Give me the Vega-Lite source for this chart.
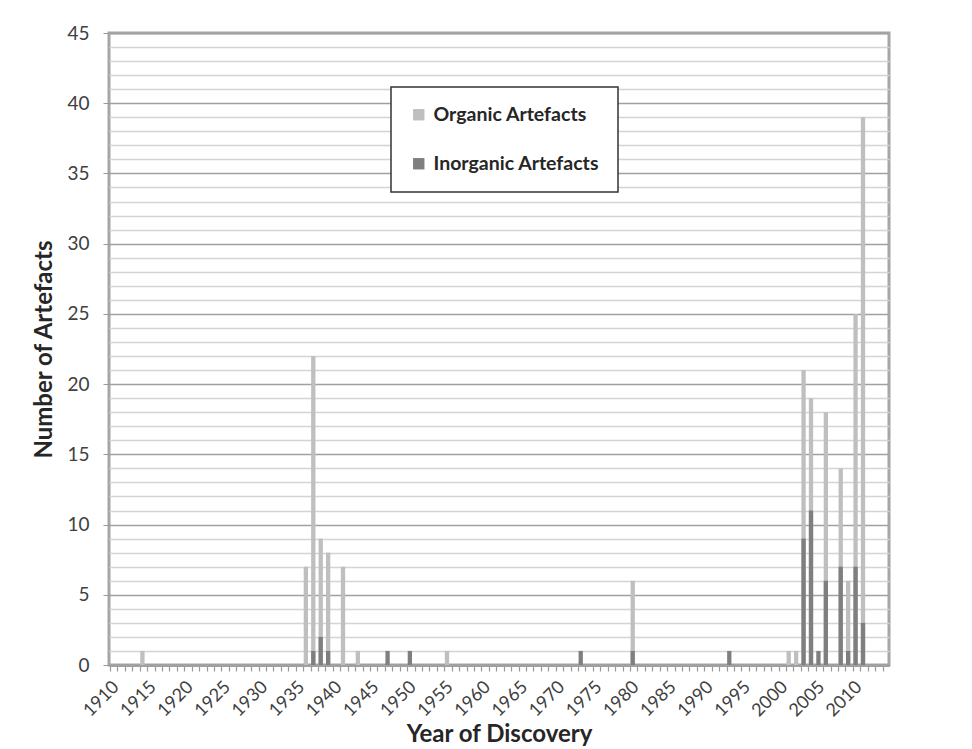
{
  "$schema": "https://vega.github.io/schema/vega-lite/v6.json",
  "width": 780,
  "height": 632,
  "autosize": {"type": "none"},
  "padding": {"left": 109, "top": 33, "right": 83, "bottom": 84},
  "background": "white",
  "config": {
    "font": "Lato",
    "view": {"stroke": "#a6a6a6", "strokeWidth": 3}
  },
  "data": {
    "values": [
      {"year": 1914, "type": "Organic Artefacts", "count": 1},
      {"year": 1936, "type": "Organic Artefacts", "count": 7},
      {"year": 1937, "type": "Organic Artefacts", "count": 22},
      {"year": 1938, "type": "Organic Artefacts", "count": 9},
      {"year": 1939, "type": "Organic Artefacts", "count": 8},
      {"year": 1941, "type": "Organic Artefacts", "count": 7},
      {"year": 1943, "type": "Organic Artefacts", "count": 1},
      {"year": 1955, "type": "Organic Artefacts", "count": 1},
      {"year": 1980, "type": "Organic Artefacts", "count": 6},
      {"year": 2001, "type": "Organic Artefacts", "count": 1},
      {"year": 2002, "type": "Organic Artefacts", "count": 1},
      {"year": 2003, "type": "Organic Artefacts", "count": 21},
      {"year": 2004, "type": "Organic Artefacts", "count": 19},
      {"year": 2006, "type": "Organic Artefacts", "count": 18},
      {"year": 2008, "type": "Organic Artefacts", "count": 14},
      {"year": 2009, "type": "Organic Artefacts", "count": 6},
      {"year": 2010, "type": "Organic Artefacts", "count": 25},
      {"year": 2011, "type": "Organic Artefacts", "count": 39},
      {"year": 1937, "type": "Inorganic Artefacts", "count": 1},
      {"year": 1938, "type": "Inorganic Artefacts", "count": 2},
      {"year": 1939, "type": "Inorganic Artefacts", "count": 1},
      {"year": 1947, "type": "Inorganic Artefacts", "count": 1},
      {"year": 1950, "type": "Inorganic Artefacts", "count": 1},
      {"year": 1973, "type": "Inorganic Artefacts", "count": 1},
      {"year": 1980, "type": "Inorganic Artefacts", "count": 1},
      {"year": 1993, "type": "Inorganic Artefacts", "count": 1},
      {"year": 2003, "type": "Inorganic Artefacts", "count": 9},
      {"year": 2004, "type": "Inorganic Artefacts", "count": 11},
      {"year": 2005, "type": "Inorganic Artefacts", "count": 1},
      {"year": 2006, "type": "Inorganic Artefacts", "count": 6},
      {"year": 2008, "type": "Inorganic Artefacts", "count": 7},
      {"year": 2009, "type": "Inorganic Artefacts", "count": 1},
      {"year": 2010, "type": "Inorganic Artefacts", "count": 7},
      {"year": 2011, "type": "Inorganic Artefacts", "count": 3}
    ]
  },
  "mark": {"type": "bar"},
  "encoding": {
    "x": {
      "field": "year",
      "type": "ordinal",
      "sort": null,
      "scale": {
        "domain": [1910,1911,1912,1913,1914,1915,1916,1917,1918,1919,1920,1921,1922,1923,1924,1925,1926,1927,1928,1929,1930,1931,1932,1933,1934,1935,1936,1937,1938,1939,1940,1941,1942,1943,1944,1945,1946,1947,1948,1949,1950,1951,1952,1953,1954,1955,1956,1957,1958,1959,1960,1961,1962,1963,1964,1965,1966,1967,1968,1969,1970,1971,1972,1973,1974,1975,1976,1977,1978,1979,1980,1981,1982,1983,1984,1985,1986,1987,1988,1989,1990,1991,1992,1993,1994,1995,1996,1997,1998,1999,2000,2001,2002,2003,2004,2005,2006,2007,2008,2009,2010,2011,2012,2013,2014],
        "paddingInner": 0.42,
        "paddingOuter": 0.21
      },
      "axis": {
        "title": "Year of Discovery",
        "titleFontSize": 24,
        "titleFontWeight": "bold",
        "titleColor": "#262626",
        "titleY": 76,
        "titleBaseline": "alphabetic",
        "labelAngle": -45,
        "labelAlign": "right",
        "labelBaseline": "middle",
        "labelFontSize": 18,
        "labelColor": "#404040",
        "labelExpr": "datum.value % 5 === 0 ? datum.label : ''",
        "labelOverlap": false,
        "labelPadding": 13,
        "bandPosition": 0,
        "labelOffset": 3.7,
        "tickSize": 6,
        "tickColor": "#999999",
        "tickWidth": 1.2,
        "domainColor": "#a0a0a0",
        "domainWidth": 3,
        "grid": false
      }
    },
    "y": {
      "field": "count",
      "type": "quantitative",
      "stack": null,
      "scale": {"domain": [0, 45], "nice": false},
      "axis": {
        "values": [0,1,2,3,4,5,6,7,8,9,10,11,12,13,14,15,16,17,18,19,20,21,22,23,24,25,26,27,28,29,30,31,32,33,34,35,36,37,38,39,40,41,42,43,44,45],
        "title": "Number of Artefacts",
        "titleFontSize": 24,
        "titleFontWeight": "bold",
        "titleColor": "#262626",
        "titlePadding": 10,
        "labelExpr": "datum.value % 5 === 0 ? datum.label : ''",
        "labelFontSize": 19,
        "labelColor": "#404040",
        "labelPadding": 14,
        "tickSize": 6,
        "tickColor": "#999999",
        "tickOpacity": {"condition": {"test": "datum.value % 5 === 0", "value": 1}, "value": 0},
        "grid": true,
        "gridColor": {"condition": {"test": "datum.value % 5 === 0", "value": "#a0a0a0"}, "value": "#d4d4d4"},
        "gridWidth": 1.3,
        "domain": false
      }
    },
    "color": {
      "field": "type",
      "type": "nominal",
      "scale": {"domain": ["Organic Artefacts", "Inorganic Artefacts"], "range": ["#bfbfbf", "#7f7f7f"]},
      "legend": {
        "title": null,
        "orient": "none",
        "legendX": 282,
        "legendY": 54,
        "direction": "vertical",
        "symbolType": "square",
        "symbolSize": 130,
        "symbolStrokeWidth": 0,
        "labelFontSize": 19.5,
        "labelFontWeight": "bold",
        "labelColor": "#262626",
        "labelOffset": 5,
        "labelLimit": 300,
        "rowPadding": 28,
        "padding": 18,
        "strokeColor": "#333333",
        "fillColor": "white",
        "encode": {"legend": {"update": {"strokeWidth": {"value": 1.5}}}}
      }
    }
  }
}
